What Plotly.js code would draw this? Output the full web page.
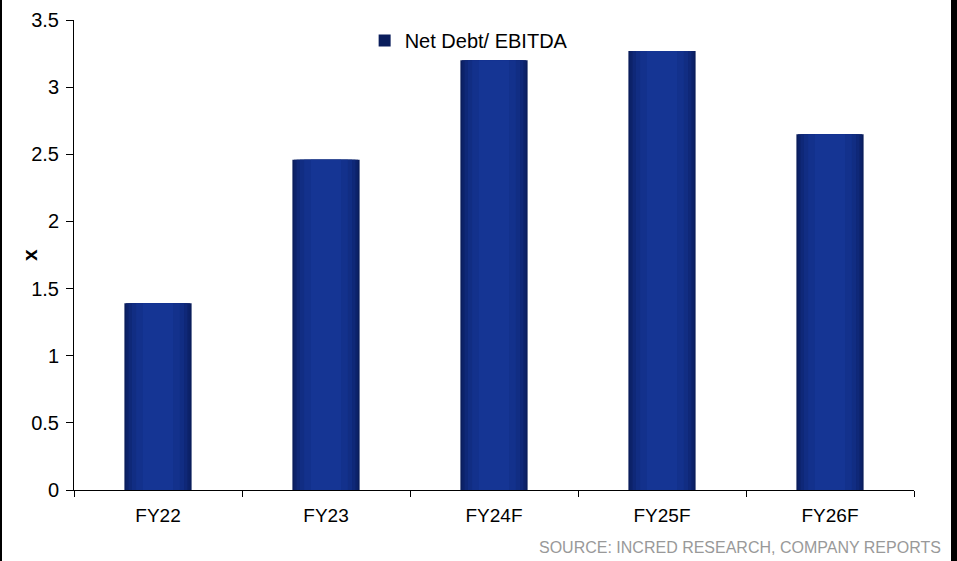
<!DOCTYPE html>
<html>
<head>
<meta charset="utf-8">
<script src="https://cdn.plot.ly/plotly-3.0.1.min.js"></script>
<style>
html,body{margin:0;padding:0;background:#fff;}
#wrap{position:relative;width:957px;height:561px;}
#chart{width:957px;height:561px;}
#lb{position:absolute;left:0;top:0;width:2px;height:561px;background:#000;}
#rb{position:absolute;left:951px;top:0;width:6px;height:561px;background:#000;}
</style>
</head>
<body>
<div id="wrap"><div id="chart"></div><div id="lb"></div><div id="rb"></div></div>
<script>
const categories = ["FY22", "FY23", "FY24F", "FY25F", "FY26F"];
const netDebtEbitda = [1.39, 2.46, 3.20, 3.27, 2.65];
const seriesName = "Net Debt/ EBITDA";
const yTicks = [0, 0.5, 1, 1.5, 2, 2.5, 3, 3.5];
const yTickLabels = ["0", "0.5", "1", "1.5", "2", "2.5", "3", "3.5"];
const yTitle = "x";
const sourceText = "SOURCE: INCRED RESEARCH, COMPANY REPORTS";

// gradient simulation layers (width, colour)
const layers = [
  [0.40, "#0a1d5c"],
  [0.38, "#0c226a"],
  [0.35, "#0f2878"],
  [0.31, "#112d83"],
  [0.26, "#13318c"],
  [0.18, "#153594"]
];

const traces = layers.map((l, i) => ({
  type: "bar",
  x: categories,
  y: netDebtEbitda,
  width: l[0],
  name: seriesName,
  showlegend: i === 0,
  marker: {color: l[1], line: {width: 0}},
  hoverinfo: i === 0 ? "x+y" : "skip"
}));

const layout = {
  width: 957, height: 561,
  margin: {l: 74, r: 43, t: 20, b: 71},
  paper_bgcolor: "#fff", plot_bgcolor: "#fff",
  barmode: "overlay",
  font: {family: "Liberation Sans, Arial, sans-serif", size: 19, color: "#000"},
  xaxis: {
    type: "category",
    showline: true, linecolor: "#000", linewidth: 1,
    ticks: "outside", tickson: "boundaries", ticklen: 6, tickcolor: "#000",
    showgrid: false, zeroline: false,
    tickfont: {size: 19},
    ticklabelstandoff: 8
  },
  yaxis: {
    range: [0, 3.5],
    tickvals: yTicks, ticktext: yTickLabels,
    showline: true, linecolor: "#000", linewidth: 1,
    ticks: "outside", ticklen: 7, tickcolor: "#000",
    showgrid: false, zeroline: false,
    tickfont: {size: 20},
    ticklabelstandoff: 3
  },
  legend: {
    orientation: "h", x: 0.346, y: 0.998, xanchor: "left", yanchor: "top",
    bgcolor: "rgba(0,0,0,0)", font: {size: 20},
    itemwidth: 30
  },
  annotations: [{
    text: sourceText, xref: "paper", yref: "paper",
    x: 1.0345, y: -0.123, xanchor: "right", yanchor: "middle",
    showarrow: false, font: {size: 16, color: "#999999"}
  }, {
    text: "<b>" + yTitle + "</b>", xref: "paper", yref: "paper",
    x: -0.0536, y: 0.5, xanchor: "center", yanchor: "middle",
    textangle: -90, showarrow: false, font: {size: 21, color: "#000"}
  }]
};

Plotly.newPlot("chart", traces, layout, {displayModeBar: false, staticPlot: true});
</script>
</body>
</html>
